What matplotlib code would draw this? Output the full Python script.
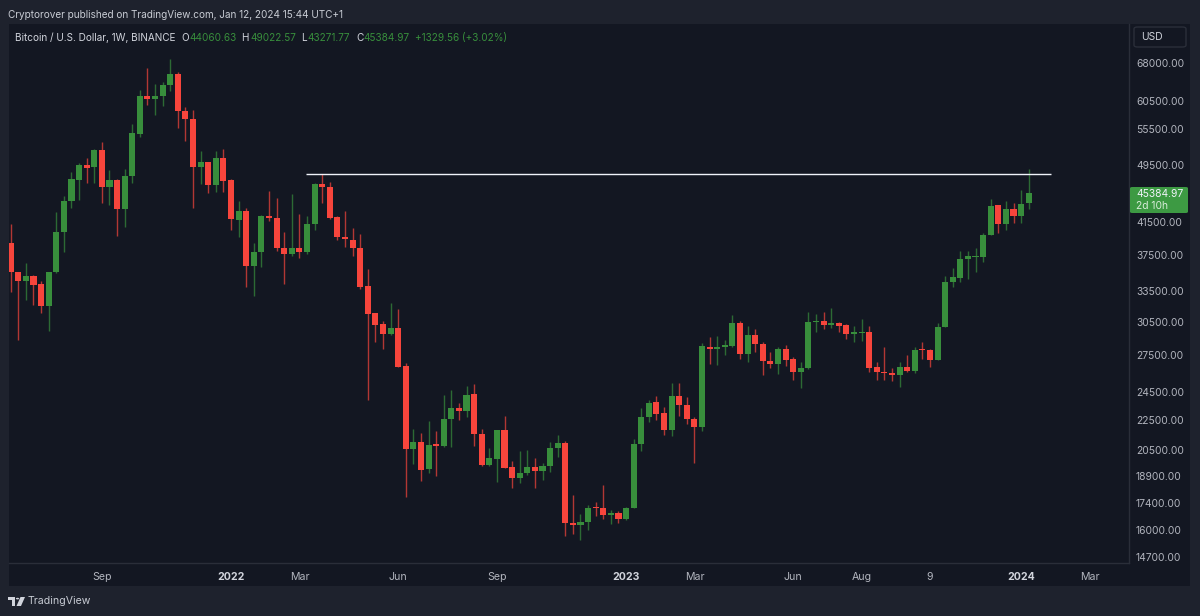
import matplotlib
matplotlib.use("Agg")
import matplotlib.pyplot as plt
from matplotlib.patches import Rectangle, FancyBboxPatch, Polygon, Circle
from matplotlib.ticker import FixedLocator, FixedFormatter, NullLocator

plt.rcParams['font.family'] = ['Inter', 'DejaVu Sans']

# weekly BTCUSD candles
opens = [38890, 35545, 34635, 35135, 34248, 32045, 35545, 40315, 44375, 47320,
         49520, 49195, 51930, 46250, 47320, 43270, 47945, 54515, 61310, 60730,
         61310, 63500, 65715, 58600, 57195, 49295, 49980, 46585, 50690, 47260,
         41800, 43025, 36245, 37890, 42320, 42100, 38280, 37650, 38350, 37855,
         41245, 46780, 46335, 42145, 39615, 39290, 38350, 34060, 31310, 30260,
         29390, 29870, 26560, 20570, 21030, 19300, 20860, 20750, 22530, 23315,
         23150, 24355, 21540, 19560, 19930, 21810, 19420, 18780, 19060, 19460,
         19220, 19520, 20610, 20965, 16360, 16255, 16410, 17170, 17100, 16720,
         16825, 16535, 17130, 20860, 22675, 23760, 22960, 21765, 24245, 23585,
         22580, 22020, 28230, 28000, 28230, 28320, 30405, 27595, 29270, 28460,
         26970, 26780, 28030, 27150, 26120, 26400, 30470, 30595, 30190, 30380,
         30190, 29350, 29430, 29550, 26480, 26120, 26040, 25860, 26525, 26205,
         28050, 27940, 27115, 29965, 34525, 34950, 37080, 37320, 37300, 39900,
         43750, 41280, 43270, 42320, 44060.63]
highs = [41280, 35600, 36550, 35245, 34635, 35620, 42815, 45000, 48550, 49825,
         50595, 52040, 53180, 48810, 47420, 48920, 56280, 62530, 66870, 63640,
         64040, 68850, 66190, 59370, 58780, 51815, 50075, 51770, 52040, 47420,
         44375, 43330, 38890, 42450, 45770, 44690, 40240, 45300, 42585, 42320,
         46835, 48205, 47070, 42360, 42990, 40725, 40025, 35880, 31340, 30595,
         32345, 31700, 26815, 21880, 21585, 22440, 21695, 24300, 24680, 23685,
         25010, 25145, 21880, 20610, 21810, 22770, 19810, 20390, 20500, 19975,
         19705, 21030, 21470, 21095, 17830, 16795, 17280, 17460, 18390, 17020,
         16930, 17160, 21185, 23365, 23930, 24220, 23400, 25200, 25200, 24130,
         22680, 28580, 29060, 29180, 28820, 31140, 30565, 30050, 29820, 28670,
         27740, 28230, 28375, 27350, 26900, 31400, 31240, 31400, 31800, 30500,
         30240, 30050, 30755, 30050, 26900, 28170, 26400, 26900, 27500, 28170,
         28615, 28030, 30350, 35170, 35990, 37975, 37975, 38350, 40190, 44650,
         43780, 44330, 44015, 45870, 49022.57]
lows = [33470, 28820, 32620, 32115, 31310, 29665, 35500, 37890, 43410, 44470,
        46925, 46925, 44015, 43780, 39775, 40930, 46835, 54000, 59690, 57870,
        59500, 62395, 55525, 53395, 43410, 46735, 45400, 45545, 45630, 40530,
        39690, 33990, 33025, 36160, 41670, 37990, 34280, 37415, 37200, 37650,
        40530, 44100, 41880, 39290, 38470, 37415, 33790, 23930, 28615, 28000,
        29270, 26500, 17700, 19625, 18620, 19060, 18905, 20700, 20700, 22490,
        22720, 20750, 19520, 19520, 18550, 19360, 18200, 18490, 18975, 18200,
        18680, 19160, 20040, 15705, 15800, 15500, 15990, 16705, 16550, 16300,
        16360, 16500, 17090, 20435, 22375, 22490, 21470, 21360, 22790, 22210,
        19705, 21760, 26755, 26680, 27460, 28170, 27175, 26920, 27740, 25880,
        26445, 25945, 26600, 25460, 24810, 26340, 29575, 29795, 29885, 29575,
        28910, 28670, 28760, 26070, 25460, 25460, 25380, 24930, 26120, 25990,
        27175, 26525, 27090, 29965, 33990, 34525, 34815, 35610, 36700, 39860,
        40190, 40530, 41370, 41450, 43271.77]
closes = [35545, 34635, 35135, 34170, 32045, 35545, 40315, 44375, 47405, 49560,
          49140, 51930, 46250, 47320, 43270, 47945, 54685, 61310, 60730, 61310,
          63500, 65715, 58545, 57195, 49295, 49980, 46585, 50690, 47215, 41880,
          43025, 36245, 37890, 42320, 42010, 38280, 37650, 38350, 37855, 41245,
          46780, 46335, 42010, 39615, 39415, 38350, 33955, 31265, 30215, 29390,
          29870, 26525, 20570, 21030, 19260, 20830, 20750, 22530, 23315, 23150,
          24300, 21540, 19560, 19975, 21810, 19395, 18780, 19060, 19440, 19220,
          19520, 20610, 20940, 16345, 16255, 16410, 17100, 17100, 16720, 16825,
          16535, 17130, 20860, 22675, 23730, 22910, 21765, 24245, 23560, 22540,
          22020, 28260, 28030, 28230, 28375, 30405, 27595, 29270, 28460, 26980,
          26780, 28050, 27090, 26100, 26400, 30480, 30595, 30190, 30350, 30130,
          29350, 29490, 29550, 26445, 26100, 26040, 25830, 26500, 26205, 27970,
          27970, 27115, 29965, 34525, 34990, 37000, 37345, 37400, 39900, 43685,
          41280, 43270, 42320, 43920, 45384.97]

price_ticks = [68000, 60500, 55500, 49500, 41500, 37500, 33500, 30500, 27500,
               24500, 22500, 20500, 18900, 17400, 16000, 14700]
week_ticks = [12, 29, 38, 51, 64, 81, 90, 103, 112, 121, 133, 142]
week_labels = ['Sep', '2022', 'Mar', 'Jun', 'Sep', '2023', 'Mar', 'Jun', 'Aug', '9', '2024', 'Mar']
level_price = 48150
level_start, level_end = 38.87, 136.9
last_price = 45384.97

BG = '#1e222d'
PANE = '#131722'
BORDER = '#2a2e39'
UP = '#388e3c'
DOWN = '#f7453c'
TXT = '#b2b5be'

W, H = 1200, 616
fig = plt.figure(figsize=(12, 6.16), dpi=100, facecolor=BG)


def fx(px):
    return px / W


def fy(py):
    return 1 - py / H


# pane behind the chart and both axis strips
fig.patches.append(Rectangle((fx(9), fy(586)), fx(1181), 562 / H, transform=fig.transFigure,
                             facecolor=PANE, edgecolor='none', zorder=-5))

ax = fig.add_axes([fx(9), fy(563), fx(1120), 539 / H], facecolor='none', zorder=2)
ax.set_yscale('log')
ax.set_xlim(-0.224, 147.2)
ax.set_ylim(14430, 76740)

xs = list(range(len(closes)))
colors = [UP if c >= o else DOWN for o, c in zip(opens, closes)]
ax.vlines(xs, lows, highs, colors=colors, linewidth=1.0, alpha=0.7, zorder=2)
ax.bar(xs, [abs(c - o) for o, c in zip(opens, closes)], bottom=[min(o, c) for o, c in zip(opens, closes)],
       width=0.8, color=colors, linewidth=0, zorder=3)
ax.hlines(level_price, level_start, level_end, colors='#f0f3fa', linewidth=1.0, zorder=4)

ax.yaxis.tick_right()
ax.yaxis.set_major_locator(FixedLocator(price_ticks))
ax.yaxis.set_major_formatter(FixedFormatter([f'{p:.2f}' for p in price_ticks]))
ax.yaxis.set_minor_locator(NullLocator())
ax.tick_params(axis='y', length=0, pad=5, labelsize=7.4, labelcolor=TXT)
ax.xaxis.set_major_locator(FixedLocator(week_ticks))
ax.xaxis.set_major_formatter(FixedFormatter(week_labels))
ax.tick_params(axis='x', length=0, pad=6.5, labelsize=7.6, labelcolor=TXT)
for lab in ax.get_xticklabels():
    if lab.get_text().startswith('20'):
        lab.set_fontweight('bold')
        lab.set_color('#d1d4dc')
for side in ['top', 'left']:
    ax.spines[side].set_visible(False)
for side in ['bottom', 'right']:
    ax.spines[side].set_color(BORDER)
    ax.spines[side].set_linewidth(1)

# header
fig.text(fx(8), fy(15), 'Cryptorover published on TradingView.com, Jan 12, 2024 15:44 UTC+1',
         color='#c8ccd4', fontsize=7.2, va='center')

# OHLC legend
for px, s, c in [(15, 'Bitcoin / U.S. Dollar, 1W, BINANCE', '#d1d4dc'),
                 (181, 'O', '#d1d4dc'), (189, '44060.63', UP),
                 (241, 'H', '#d1d4dc'), (250, '49022.57', UP),
                 (301, 'L', '#d1d4dc'), (307, '43271.77', UP),
                 (356, 'C', '#d1d4dc'), (363, '45384.97', UP),
                 (415, '+1329.56 (+3.02%)', UP)]:
    fig.text(fx(px), fy(38), s, color=c, fontsize=7.2, va='center')

# USD button
fig.patches.append(FancyBboxPatch((fx(1134), fy(47)), fx(52), 20 / H, transform=fig.transFigure,
                                  boxstyle='round,pad=0,rounding_size=0.003', facecolor=PANE,
                                  edgecolor=BORDER, linewidth=1))
fig.text(fx(1141), fy(37), 'USD', color='#d1d4dc', fontsize=7.4, va='center')

# last price tag, centred a bit under the close
fig.add_artist(FancyBboxPatch((fx(1130), fy(213)), fx(58), 26 / H, transform=fig.transFigure,
                              boxstyle='round,pad=0,rounding_size=0.002', facecolor='#3d9a43',
                              edgecolor='none', zorder=5))
fig.text(fx(1136), fy(194), f'{last_price:.2f}', color='#f0f3fa', fontsize=7.4, va='center', zorder=6)
fig.text(fx(1136), fy(206), '2d 10h', color='#d8ecd9', fontsize=7.4, va='center', zorder=6)

# TradingView logo and wordmark
logo = '#d1d4dc'
fig.patches.append(Polygon([(fx(8), fy(597)), (fx(15), fy(597)), (fx(15), fy(606)), (fx(12), fy(606)),
                            (fx(12), fy(600)), (fx(8), fy(600))], closed=True,
                           transform=fig.transFigure, facecolor=logo, edgecolor='none'))
fig.patches.append(Polygon([(fx(20.5), fy(597)), (fx(25), fy(597)), (fx(21), fy(606)), (fx(16.5), fy(606))],
                           closed=True, transform=fig.transFigure, facecolor=logo, edgecolor='none'))
fig.patches.append(Circle((fx(17.5), fy(598.6)), fx(1.6), transform=fig.transFigure,
                          facecolor=logo, edgecolor='none'))
fig.text(fx(28), fy(601), 'TradingView', color='#c8ccd4', fontsize=7.6, va='center')

fig.savefig('out.png', dpi=100, facecolor=BG)
